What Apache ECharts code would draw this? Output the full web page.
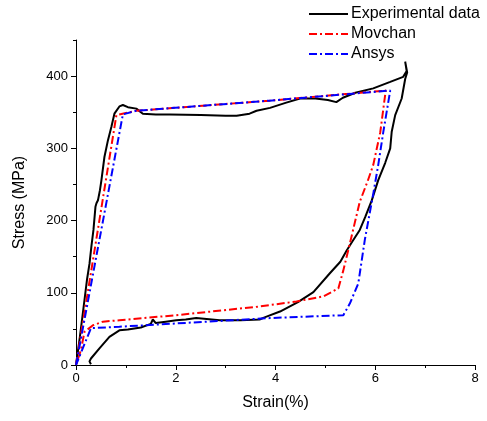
<!DOCTYPE html>
<html><head><meta charset="utf-8">
<script src="https://cdn.jsdelivr.net/npm/echarts@6/dist/echarts.min.js"></script>
<style>html,body{margin:0;padding:0;background:#fff}#c{width:487px;height:421px}</style>
</head><body><div id="c"></div>
<script>
// Experimental data (loading then unloading)
const expStrain = [0,0.08,0.17,0.22,0.27,0.31,0.35,0.39,0.41,0.44,0.48,0.51,0.57,0.64,0.71,0.77,0.87,0.94,1.04,1.21,1.34,1.6,1.88,2.5,3.0,3.22,3.48,3.62,3.89,4.2,4.49,4.8,5.05,5.22,5.35,5.6,5.96,6.3,6.56,6.63,6.6,6.64,
  6.6,6.53,6.4,6.33,6.3,6.2,6.06,5.93,5.8,5.69,5.55,5.43,5.3,5.09,4.76,4.45,4.09,3.82,3.68,3.3,2.88,2.41,2.2,2.01,1.8,1.6,1.54,1.5,1.3,1.04,0.87,0.67,0.47,0.3,0.27,0.3];
const expStress = [0,40,90,118,140,165,187,219,224,228,242,256,288,311,330,348,358,360,357,355,348,347,347,346,345,345,348,352,356,363,369,369,367,364,370,377,383,392,399,407,420,405,
  396,369,346,323,300,280,256,228,205,187,172,159,143,127,101,87,74,67,63,62,62,65,63,62,60,58,63,57,52,49,48,39,23,9,5,1];
// Movchan model
const movStrain = [0,0.81,1.21,3.88,6.21,6.1,5.96,5.85,5.69,5.49,5.36,5.26,5.22,4.96,4.42,3.68,2.01,0.87,0.54,0.34,0.17,0.1,0];
const movStress = [0,346,352,366,380,322,277,255,226,168,131,106,105,95,88,81,69,62,60,55,46,21,0];
// Ansys model
const ansStrain = [0,0.94,1.21,3.88,6.3,6.16,6.06,5.96,5.79,5.66,5.49,5.36,3.89,0.87,0.3,0];
const ansStress = [0,347,352,366,380,322,277,237,173,113,85,69,65,53,51,0];
// Axis ticks
const xTicks = [0,2,4,6,8];
const yTicks = [0,100,200,300,400];

const pairs = (xs, ys) => xs.map((x, i) => [x, ys[i]]);
const font = 'Arial, "Liberation Sans", sans-serif';
const axisCommon = {
  axisLine: {show: true, lineStyle: {color: '#000', width: 1}},
  splitLine: {show: false},
  axisLabel: {color: '#000', fontSize: 13, fontFamily: font},
  nameTextStyle: {color: '#000', fontSize: 16, fontFamily: font}
};
const chart = echarts.init(document.getElementById('c'), null, {renderer: 'canvas'});
chart.setOption({
  animation: false,
  backgroundColor: '#fff',
  textStyle: {fontFamily: font},
  grid: {left: 76, right: 12, top: 40, bottom: 56},
  legend: {
    orient: 'vertical', left: 308, top: 6, padding: 0, itemGap: 4,
    itemWidth: 39, itemHeight: 16,
    itemStyle: {opacity: 0},
    lineStyle: {width: 2},
    textStyle: {fontSize: 16, color: '#000', fontFamily: font, padding: [0, 0, 0, -2]},
    data: ['Experimental data', 'Movchan', 'Ansys']
  },
  xAxis: [Object.assign({}, axisCommon, {
    type: 'value', min: xTicks[0], max: xTicks[xTicks.length - 1], interval: 2,
    name: 'Strain(%)', nameLocation: 'middle', nameGap: 30,
    axisTick: {show: true, inside: false, length: 5, lineStyle: {color: '#000'}},
    minorTick: {show: true, splitNumber: 2, length: 3, lineStyle: {color: '#000'}},
    axisLabel: Object.assign({}, axisCommon.axisLabel, {margin: 7})
  })],
  yAxis: [
    Object.assign({}, axisCommon, {
      type: 'value', min: 0, max: 450, interval: 50,
      name: 'Stress (MPa)', nameLocation: 'middle', nameGap: 48,
      axisTick: {show: true, inside: false, length: 3, lineStyle: {color: '#000'}},
      axisLabel: Object.assign({}, axisCommon.axisLabel, {margin: 8,
        formatter: v => (yTicks.indexOf(v) >= 0 ? String(v) : '')})
    }),
    Object.assign({}, axisCommon, {
      type: 'value', position: 'left', min: 0, max: 450, interval: 100,
      axisTick: {show: true, inside: false, length: 5, lineStyle: {color: '#000'}, customValues: yTicks},
      axisLabel: {show: false},
      axisLine: {show: false}
    })
  ],
  series: [
    {name: 'Experimental data', type: 'line', data: pairs(expStrain, expStress), symbol: 'none',
      lineStyle: {color: '#000', width: 2}, itemStyle: {color: '#000'}, z: 2},
    {name: 'Movchan', type: 'line', data: pairs(movStrain, movStress), symbol: 'none',
      lineStyle: {color: '#ff0000', width: 2, type: [8, 3, 2, 3]}, itemStyle: {color: '#ff0000'}, z: 3},
    {name: 'Ansys', type: 'line', data: pairs(ansStrain, ansStress), symbol: 'none',
      lineStyle: {color: '#0000ff', width: 2, type: [8, 3, 2, 3]}, itemStyle: {color: '#0000ff'}, z: 4}
  ]
});
</script></body></html>
